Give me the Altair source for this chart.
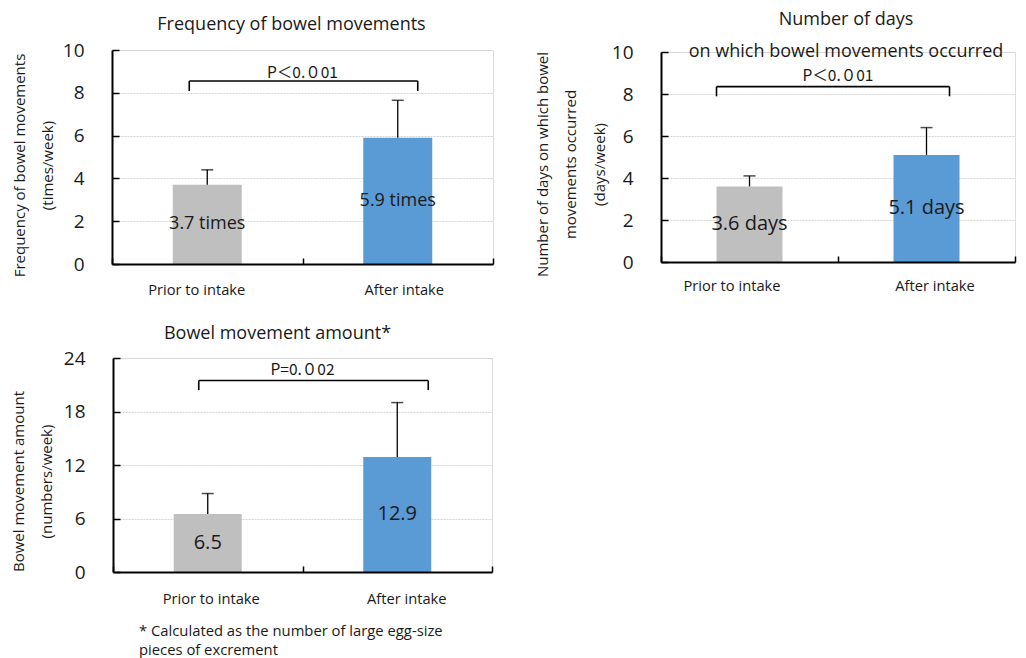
import altair as alt
import pandas as pd

cats = ["Prior to intake", "After intake"]
colors = ["#bfbfbf", "#5b9bd5"]

# Panel 1: frequency (times/week)
freq_mean = [3.7, 5.9]
freq_sd = [0.7, 1.75]
freq_labels = ["3.7 times", "5.9 times"]
freq_ticks = [0, 2, 4, 6, 8, 10]

# Panel 2: days with bowel movements (days/week)
days_mean = [3.6, 5.1]
days_sd = [0.5, 1.3]
days_labels = ["3.6 days", "5.1 days"]
days_ticks = [0, 2, 4, 6, 8, 10]

# Panel 3: amount (numbers/week)
amt_mean = [6.5, 12.9]
amt_sd = [2.3, 6.1]
amt_labels = ["6.5", "12.9"]
amt_ticks = [0, 6, 12, 18, 24]

# significance brackets: [leg bottom, bar top, text y]
freq_bracket = [8.08, 8.55, 8.94]
days_bracket = [7.89, 8.35, 8.87]
amt_bracket = [20.4, 21.47, 22.62]
freq_p = "P＜0.０01"
days_p = "P＜0.０01"
amt_p = "P=0.０02"

footnote = "* Calculated as the number of large egg-size\npieces of excrement"

TXT = "#1a1a1a"
FONT = "Open Sans"


def panel(mean, sd, labels, ticks, ymax, width, height, bar_size, label_size,
          title, subtitle, title_dx, title_offset,
          ytitle, ytitle_x, ytitle_y, ytitle_lh, bracket, br_off, p_text,
          xlab_off, xlab_pad):
    df = pd.DataFrame({
        "cat": cats,
        "mean": mean,
        "upper": [m + s for m, s in zip(mean, sd)],
        "label": labels,
    })
    df["mid"] = df["mean"] / 2
    xscale = alt.Scale(domain=cats, paddingInner=0, paddingOuter=0)
    yscale = alt.Scale(domain=[0, ymax], nice=False)
    x_axis = alt.Axis(
        title=None, labelAngle=0, tickBand="extent", tickSize={"expr": "-6"},
        tickColor="black", tickWidth=1.5, domainColor="black", domainWidth=2,
        labelFontSize=14.7, labelColor=TXT, labelFont=FONT, labelPadding=xlab_pad,
        labelOffset={"condition": {"test": "datum.value == 'Prior to intake'", "value": xlab_off[0]},
                     "value": xlab_off[1]},
        grid=False, zindex=1,
    )
    y_axis = alt.Axis(
        values=ticks, title=ytitle, titleX=ytitle_x, titleY=ytitle_y,
        titleBaseline="middle", titleAlign="center", titleAngle=-90,
        titleLineHeight=ytitle_lh, titleFontSize=15, titleFontWeight="normal",
        titleColor=TXT, titleFont=FONT,
        tickSize={"expr": "-7"}, tickColor="black", tickWidth=1.5,
        domainColor="black", domainWidth=2,
        labelFontSize=19, labelColor=TXT, labelFont=FONT, labelPadding=35,
        grid=True, gridColor="#d4d4d4", gridDash=[2, 1], gridWidth=1,
    )
    base = alt.Chart(df)
    xenc = alt.X("cat:N", scale=xscale, axis=x_axis)
    bars = base.mark_bar(size=bar_size).encode(
        x=xenc,
        y=alt.Y("mean:Q", scale=yscale, axis=y_axis),
        color=alt.Color("cat:N", scale=alt.Scale(domain=cats, range=colors), legend=None),
    )
    err = base.mark_rule(color="black", strokeWidth=1.3).encode(
        x=xenc, y=alt.Y("mean:Q", scale=yscale), y2="upper:Q")
    cap = base.mark_tick(orient="horizontal", size=12, thickness=1.5, color="black").encode(
        x=xenc, y=alt.Y("upper:Q", scale=yscale))
    lab = base.mark_text(fontSize=label_size, color=TXT, font=FONT).encode(
        x=xenc, y=alt.Y("mid:Q", scale=yscale), text="label:N")

    bdf = pd.DataFrame({"c1": [cats[0]], "c2": [cats[1]],
                        "lo": [bracket[0]], "hi": [bracket[1]], "ty": [bracket[2]],
                        "p": [p_text]})
    bb = alt.Chart(bdf)
    hline = bb.mark_rule(color="black", strokeWidth=1.6, xOffset=br_off[0], x2Offset=br_off[1]).encode(
        x=alt.X("c1:N", scale=xscale), x2="c2:N", y=alt.Y("hi:Q", scale=yscale))
    leg1 = bb.mark_rule(color="black", strokeWidth=1.6, xOffset=br_off[0]).encode(
        x=alt.X("c1:N", scale=xscale), y=alt.Y("lo:Q", scale=yscale), y2="hi:Q")
    leg2 = bb.mark_rule(color="black", strokeWidth=1.6, xOffset=br_off[1]).encode(
        x=alt.X("c2:N", scale=xscale), y=alt.Y("lo:Q", scale=yscale), y2="hi:Q")
    ptxt = bb.mark_text(fontSize=15.5, color=TXT, font="Noto Sans CJK JP").encode(
        x=alt.X("c1:N", scale=xscale, bandPosition=1), y=alt.Y("ty:Q", scale=yscale), text="p:N")

    layers = [bars, err, cap, lab, hline, leg1, leg2, ptxt]
    tp = dict(text=title, frame="group", anchor="middle", dx=title_dx,
              offset={"expr": str(title_offset)}, fontSize=18, fontWeight="normal",
              color=TXT, font=FONT)
    if subtitle:
        tp.update(subtitle=subtitle, subtitleFontSize=18, subtitleColor=TXT,
                  subtitleFont=FONT, subtitlePadding=14)
    return layers, dict(width=width, height=height, title=alt.TitleParams(**tp))


l1, pr1 = panel(freq_mean, freq_sd, freq_labels, freq_ticks, 10, 381, 214, 69, 18,
                "Frequency of bowel movements", None, -11, 7,
                ["Frequency of bowel movements", "(times/week)"], -93, 115, 28,
                freq_bracket, (-18, 20), freq_p, (-11, 6), 24)
p1 = alt.layer(*l1).properties(**pr1)

l2, pr2 = panel(days_mean, days_sd, days_labels, days_ticks, 10, 354, 210, 66, 20,
                "Number of days", "on which bowel movements occurred", 8, -17.5,
                ["Number of days on which bowel", "movements occurred", "(days/week)"], -119, 112, 28.5,
                days_bracket, (-33, 23), days_p, (-18, 8), 22)
p2 = alt.layer(*l2).properties(**pr2)

l3, pr3 = panel(amt_mean, amt_sd, amt_labels, amt_ticks, 24, 379, 214, 68, 20,
                "Bowel movement amount*", None, -25, 6,
                ["Bowel movement amount", "(numbers/week)"], -95, 123, 28,
                amt_bracket, (-9, 31), amt_p, (3, 9), 25)
fn = alt.Chart(pd.DataFrame({"t": [footnote]})).mark_text(
    align="left", baseline="middle", lineBreak="\n", lineHeight=19, fontSize=14.8,
    color=TXT, font=FONT).encode(x=alt.value(26), y=alt.value(274), text="t:N")
p3 = alt.layer(*l3, fn).properties(**pr3)

chart = alt.concat(
    p1, p2, p3, columns=2, spacing={"row": 94, "column": 168}, bounds="flush", center=True
).properties(
    padding={"left": 2, "top": 2, "right": 0, "bottom": 0}
).configure_view(stroke=None).configure(font=FONT)

chart.save("out.html", embed_options={"renderer": "svg", "actions": False})
